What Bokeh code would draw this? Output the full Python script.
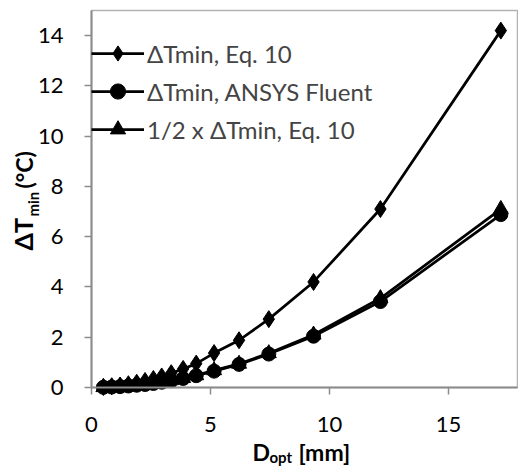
import math
from bokeh.plotting import figure
from bokeh.models import Range1d, FixedTicker, Label, Legend, LegendItem, BoxAnnotation
from bokeh.embed import file_html
from bokeh.resources import INLINE

# ---- data ----
d_opt = [0.5, 0.85, 1.2, 1.55, 1.9, 2.25, 2.6, 2.95, 3.35, 3.85, 4.4, 5.15, 6.2, 7.45, 9.33, 12.14, 17.2]
dt_eq10 = [0.02, 0.05, 0.08, 0.13, 0.19, 0.26, 0.34, 0.44, 0.57, 0.74, 0.95, 1.37, 1.88, 2.72, 4.2, 7.1, 14.2]
dt_fluent = [0.008, 0.02, 0.035, 0.06, 0.09, 0.12, 0.16, 0.21, 0.27, 0.36, 0.47, 0.65, 0.92, 1.33, 2.04, 3.42, 6.88]
dt_half = [0.01, 0.025, 0.04, 0.065, 0.095, 0.13, 0.17, 0.22, 0.285, 0.37, 0.48, 0.68, 0.94, 1.36, 2.1, 3.55, 7.1]
x_ticks = [0, 5, 10, 15]
y_ticks = [0, 2, 4, 6, 8, 10, 12, 14]
legend_labels = ["\u0394Tmin, Eq. 10", "\u0394Tmin, ANSYS Fluent", "1/2 x \u0394Tmin, Eq. 10"]

X_MAX, Y_MAX = 17.9, 15.0
FONT = "Lato"

W, H = 518, 466
# plot area (page pixels)
L, R, T, B = 91, 517, 10, 387
SX = (R - L) / X_MAX
SY = (B - T) / Y_MAX

def dx(px):
    return (px - L) / SX

def dy(py):
    return (B - py) / SY

p = figure(width=W, height=H, output_backend="svg", toolbar_location=None,
           x_range=Range1d(dx(0), dx(W)), y_range=Range1d(dy(H), dy(0)),
           min_border=0)
p.grid.visible = False
p.outline_line_color = None
p.background_fill_color = "white"
p.border_fill_color = "white"

box = BoxAnnotation(left=0, right=X_MAX, bottom=0, top=Y_MAX, fill_alpha=0,
                    line_color="black", line_width=1.5, level="underlay")
p.add_layout(box)

for ax, ticks, bnd in ((p.xaxis[0], x_ticks, (0, X_MAX)), (p.yaxis[0], y_ticks, (0, Y_MAX))):
    ax.fixed_location = 0
    ax.bounds = bnd
    ax.ticker = FixedTicker(ticks=ticks)
    ax.axis_line_color = "#8c8c8c"
    ax.axis_line_width = 2
    ax.major_tick_line_color = "#8c8c8c"
    ax.major_tick_line_width = 1.5
    ax.major_tick_out = 7
    ax.major_tick_in = 0
    ax.minor_tick_line_color = None
    ax.major_label_text_font = FONT
    ax.major_label_text_font_size = "22px"
    ax.major_label_text_color = "black"
p.xaxis.major_label_standoff = 22
p.yaxis.major_label_standoff = 21

LW = 2.75
r1l = p.line(d_opt, dt_eq10, line_color="black", line_width=LW)
r1m = p.scatter(d_opt, dt_eq10, marker="diamond", size=17, color="black")
r2l = p.line(d_opt, dt_fluent, line_color="black", line_width=LW)
r2m = p.scatter(d_opt, dt_fluent, marker="circle", size=14, color="black")
r3l = p.line(d_opt, dt_half, line_color="black", line_width=LW)
r3m = p.scatter(d_opt, dt_half, marker="triangle", size=15, color="black")

legend = Legend(items=[
    LegendItem(label=legend_labels[0], renderers=[r1l, r1m]),
    LegendItem(label=legend_labels[1], renderers=[r2l, r2m]),
    LegendItem(label=legend_labels[2], renderers=[r3l, r3m]),
], location=(L, H - 148), padding=0, margin=0, spacing=0,
   glyph_width=53, glyph_height=38, label_height=38, label_standoff=3,
   label_text_font=FONT, label_text_font_size="24px",
   background_fill_alpha=0, border_line_color=None)
p.add_layout(legend, "center")

# labels are anchored at the middle of their text box
lab_kw = dict(x_units="data", y_units="data", text_font=FONT, text_font_style="bold",
              text_color="black", text_baseline="middle", text_align="left")
MID = 0.387  # distance (em) from baseline to text-box middle

# x axis label: D_opt [mm]
p.add_layout(Label(x=dx(252), y=dy(460 - MID * 23), text="D", text_font_size="23px", **lab_kw))
p.add_layout(Label(x=dx(269), y=dy(462.5 - MID * 15), text="opt", text_font_size="15px", **lab_kw))
p.add_layout(Label(x=dx(298), y=dy(460 - MID * 23), text="[mm]", text_font_size="23px", **lab_kw))

# y axis label: ΔT_min (°C), rotated (baseline on the right side)
p.add_layout(Label(x=dx(32 - MID * 25), y=dy(250), text="\u0394T", angle=math.pi / 2,
                   text_font_size="25px", **lab_kw))
p.add_layout(Label(x=dx(38 - MID * 15), y=dy(216), text="min", angle=math.pi / 2,
                   text_font_size="15px", **lab_kw))
p.add_layout(Label(x=dx(32 - MID * 23), y=dy(188), text="(\u00b0C)", angle=math.pi / 2,
                   text_font_size="23px", **lab_kw))

open("out.html", "w").write(file_html(p, INLINE))
